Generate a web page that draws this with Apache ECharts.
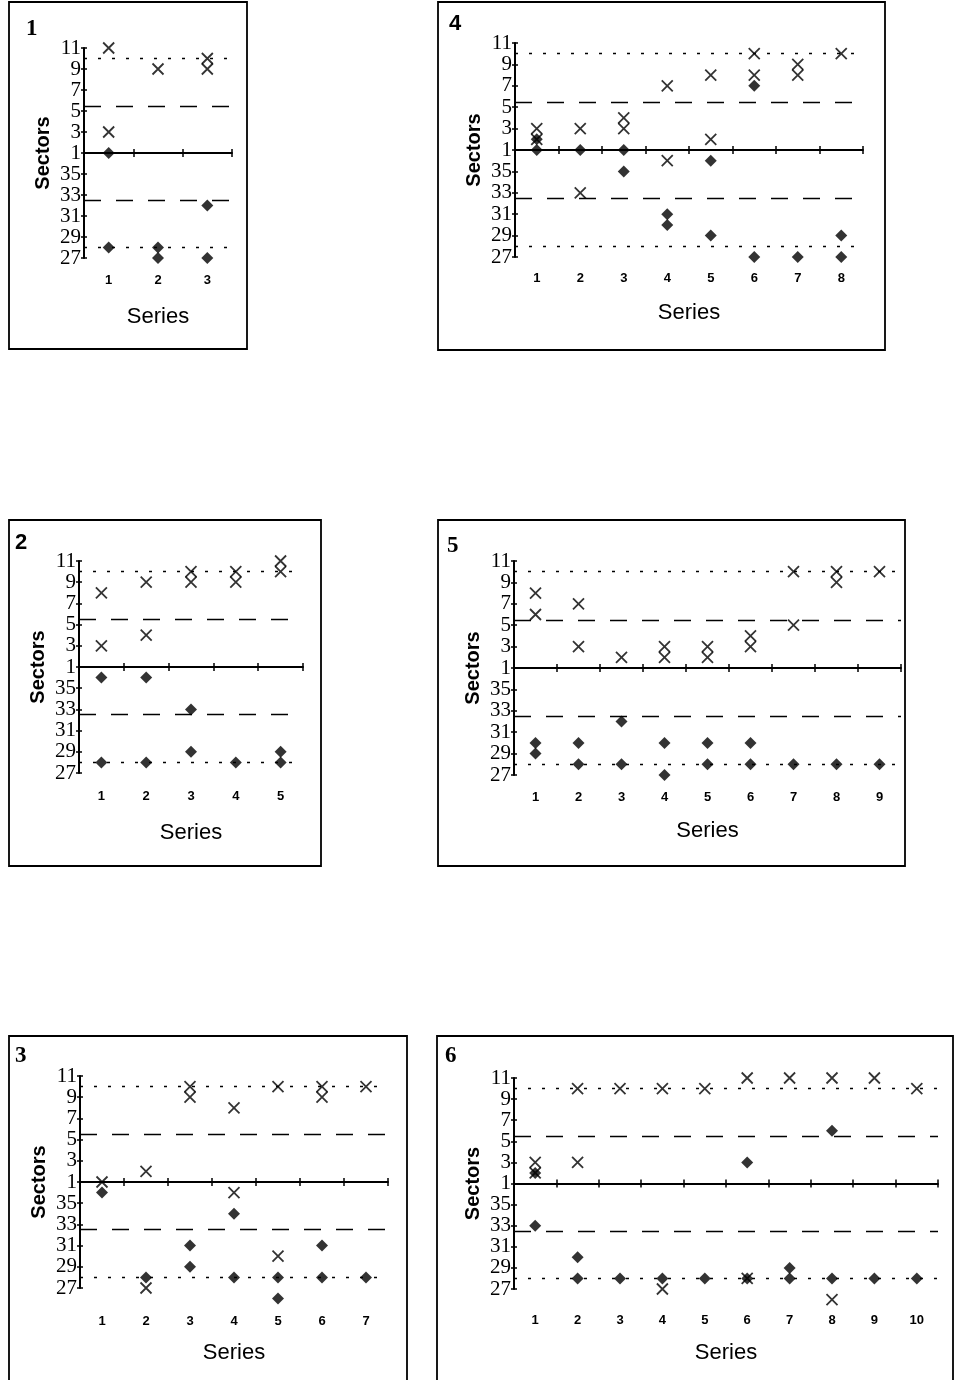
<!DOCTYPE html>
<html>
<head>
<meta charset="utf-8">
<script src="https://cdn.jsdelivr.net/npm/echarts@6/dist/echarts.min.js"></script>
<style>
html,body{margin:0;padding:0;background:#fff;}
#chart{width:955px;height:1380px;}
</style>
</head>
<body>
<div id="chart"></div>
<script>
// ---------- DATA (sector values) ----------
const p1Cats = ['1','2','3'];
const p1Cross = [[1,11],[1,3],[2,9],[3,10],[3,9]];
const p1Diamond = [[1,1],[1,28],[2,28],[2,27],[3,32],[3,27]];

const p2Cats = ['1','2','3','4','5'];
const p2Cross = [[1,8],[1,3],[2,9],[2,4],[3,10],[3,9],[4,10],[4,9],[5,11],[5,10]];
const p2Diamond = [[1,36],[1,28],[2,36],[2,28],[3,33],[3,29],[4,28],[5,29],[5,28]];

const p3Cats = ['1','2','3','4','5','6','7'];
const p3Cross = [[1,1],[2,2],[2,27],[3,10],[3,9],[4,8],[4,36],[5,10],[5,30],[6,10],[6,9],[7,10]];
const p3Diamond = [[1,36],[2,28],[3,31],[3,29],[4,34],[4,28],[5,28],[5,26],[6,31],[6,28],[7,28]];

const p4Cats = ['1','2','3','4','5','6','7','8'];
const p4Cross = [[1,3],[1,2],[2,3],[2,33],[3,4],[3,3],[4,7],[4,36],[5,8],[5,2],[6,10],[6,8],[7,9],[7,8],[8,10]];
const p4Diamond = [[1,2],[1,1],[2,1],[3,1],[3,35],[4,31],[4,30],[5,36],[5,29],[6,7],[6,27],[7,27],[8,29],[8,27]];

const p5Cats = ['1','2','3','4','5','6','7','8','9'];
const p5Cross = [[1,8],[1,6],[2,7],[2,3],[3,2],[4,3],[4,2],[5,3],[5,2],[6,4],[6,3],[7,10],[7,5],[8,10],[8,9],[9,10]];
const p5Diamond = [[1,30],[1,29],[2,30],[2,28],[3,32],[3,28],[4,30],[4,27],[5,30],[5,28],[6,30],[6,28],[7,28],[8,28],[9,28]];

const p6Cats = ['1','2','3','4','5','6','7','8','9','10'];
const p6Cross = [[1,3],[1,2],[2,10],[2,3],[3,10],[4,10],[4,27],[5,10],[6,11],[6,28],[7,11],[8,11],[8,26],[9,11],[10,10]];
const p6Diamond = [[1,2],[1,33],[2,30],[2,28],[3,28],[4,28],[5,28],[6,3],[6,28],[7,29],[7,28],[8,6],[8,28],[9,28],[10,28]];

// y tick values shown (sectors, bottom to top)
const yTickSectors = [27,29,31,33,35,1,3,5,7,9,11];
// reference lines (sectors)
const dottedRefs = [10, 28];
const dashedRefs = [5.5, 32.5];

// ---------- helpers ----------
// circular sector scale: sector 1 at 0, 2 sectors per unit
const toPos = s => (s <= 18 ? (s - 1) / 2 : (s - 37) / 2);
const toSector = v => {
  const s = v >= 0 ? 1 + 2 * v : 37 + 2 * v;
  return String(Math.round(s));
};

// ---------- layout ----------
const panels = [
  {id:'1', cats:p1Cats, cross:p1Cross, diamond:p1Diamond, box:[9,2,247,349], grid:[84,48,148,210], num:[26,18,'serif'], lm:16, ng:48},
  {id:'4', cats:p4Cats, cross:p4Cross, diamond:p4Diamond, box:[438,2,885,350], grid:[515,43,348,214], num:[449,13,'sans'], lm:15, ng:45},
  {id:'2', cats:p2Cats, cross:p2Cross, diamond:p2Diamond, box:[9,520,321,866], grid:[79,561,224,212], num:[15,532,'sans'], lm:17, ng:49},
  {id:'5', cats:p5Cats, cross:p5Cross, diamond:p5Diamond, box:[438,520,905,866], grid:[514,561,387,214], num:[447,535,'serif'], lm:16, ng:45},
  {id:'3', cats:p3Cats, cross:p3Cross, diamond:p3Diamond, box:[9,1036,407,1385], grid:[80,1076,308,212], num:[15,1045,'serif'], lm:27, ng:54},
  {id:'6', cats:p6Cats, cross:p6Cross, diamond:p6Diamond, box:[437,1036,953,1385], grid:[514,1078,424,211], num:[445,1045,'serif'], lm:25, ng:53}
];

const BLACK = '#000';
const grids = [], xAxes = [], yAxes = [], series = [], graphics = [];

panels.forEach((p, i) => {
  grids.push({left:p.grid[0], top:p.grid[1], width:p.grid[2], height:p.grid[3]});

  const catBase = {gridIndex:i, type:'category', data:p.cats, position:'bottom', boundaryGap:true,
                   splitLine:{show:false}};
  // labels + name at bottom
  xAxes.push(Object.assign({}, catBase, {
    axisLine:{show:false, onZero:false},
    axisTick:{show:false},
    axisLabel:{interval:0, margin:p.lm, color:BLACK, fontFamily:'Liberation Sans', fontWeight:'bold', fontSize:13},
    name:'Series', nameLocation:'middle', nameGap:p.ng,
    nameTextStyle:{color:BLACK, fontFamily:'Liberation Sans', fontSize:22}
  }));
  // axis line on sector 1 with downward ticks
  xAxes.push(Object.assign({}, catBase, {
    axisLine:{show:true, onZero:true, lineStyle:{color:BLACK, width:1.8}},
    axisTick:{show:true, interval:0, length:4, lineStyle:{color:BLACK, width:1.5}},
    axisLabel:{show:false, interval:0}
  }));
  // upward ticks
  xAxes.push(Object.assign({}, catBase, {
    axisLine:{show:false, onZero:true},
    axisTick:{show:true, inside:true, interval:0, length:4, lineStyle:{color:BLACK, width:1.5}},
    axisLabel:{show:false, interval:0}
  }));

  const valBase = {gridIndex:i, type:'value', position:'left', min:toPos(yTickSectors[0]),
                   max:toPos(yTickSectors[yTickSectors.length-1]), interval:1, splitLine:{show:false}};
  yAxes.push(Object.assign({}, valBase, {
    axisLine:{show:true, onZero:false, lineStyle:{color:BLACK, width:2}},
    axisTick:{show:true, length:3, lineStyle:{color:BLACK, width:1.5}},
    axisLabel:{formatter:toSector, margin:3, color:BLACK, fontFamily:'Liberation Serif', fontSize:21},
    name:'Sectors', nameLocation:'middle', nameGap:31,
    nameTextStyle:{color:BLACK, fontFamily:'Liberation Sans', fontWeight:'bold', fontSize:20}
  }));
  yAxes.push(Object.assign({}, valBase, {
    axisLine:{show:false, onZero:false},
    axisTick:{show:true, inside:true, length:3, lineStyle:{color:BLACK, width:1.5}},
    axisLabel:{show:false}
  }));

  const refData = dottedRefs.map(s => ({yAxis:toPos(s), lineStyle:{type:[3,11]}}))
    .concat(dashedRefs.map(s => ({yAxis:toPos(s), lineStyle:{type:[17,15]}})));

  series.push({
    type:'scatter', xAxisIndex:3*i, yAxisIndex:2*i, clip:false, z:3,
    data:p.cross.map(([c, s]) => [p.cats.indexOf(String(c)), toPos(s)]),
    symbol:'path://M0,0L10,10M10,0L0,10', symbolSize:11,
    itemStyle:{color:BLACK, borderColor:BLACK, borderWidth:1.8},
    markLine:{silent:true, symbol:['none','none'], label:{show:false},
              lineStyle:{color:BLACK, width:1.4}, data:refData}
  });
  series.push({
    type:'scatter', xAxisIndex:3*i, yAxisIndex:2*i, clip:false, z:4,
    data:p.diamond.map(([c, s]) => [p.cats.indexOf(String(c)), toPos(s)]),
    symbol:'diamond', symbolSize:[12,12],
    itemStyle:{color:BLACK}
  });

  const b = p.box;
  graphics.push({type:'rect', silent:true, z:-10,
    shape:{x:b[0], y:b[1], width:b[2]-b[0], height:b[3]-b[1]},
    style:{fill:'none', stroke:BLACK, lineWidth:1.8}});
  graphics.push({type:'text', silent:true, x:p.num[0], y:p.num[1],
    style:{text:p.id, fill:BLACK, verticalAlign:'top',
      font: p.num[2] === 'serif' ? 'bold 23px "Liberation Serif"' : 'bold 22px "Liberation Sans"'}});
});

const chart = echarts.init(document.getElementById('chart'), null, {renderer:'canvas'});
chart.setOption({
  animation:false,
  backgroundColor:'#fff',
  grid:grids,
  xAxis:xAxes,
  yAxis:yAxes,
  series:series,
  graphic:graphics
});
</script>
</body>
</html>
